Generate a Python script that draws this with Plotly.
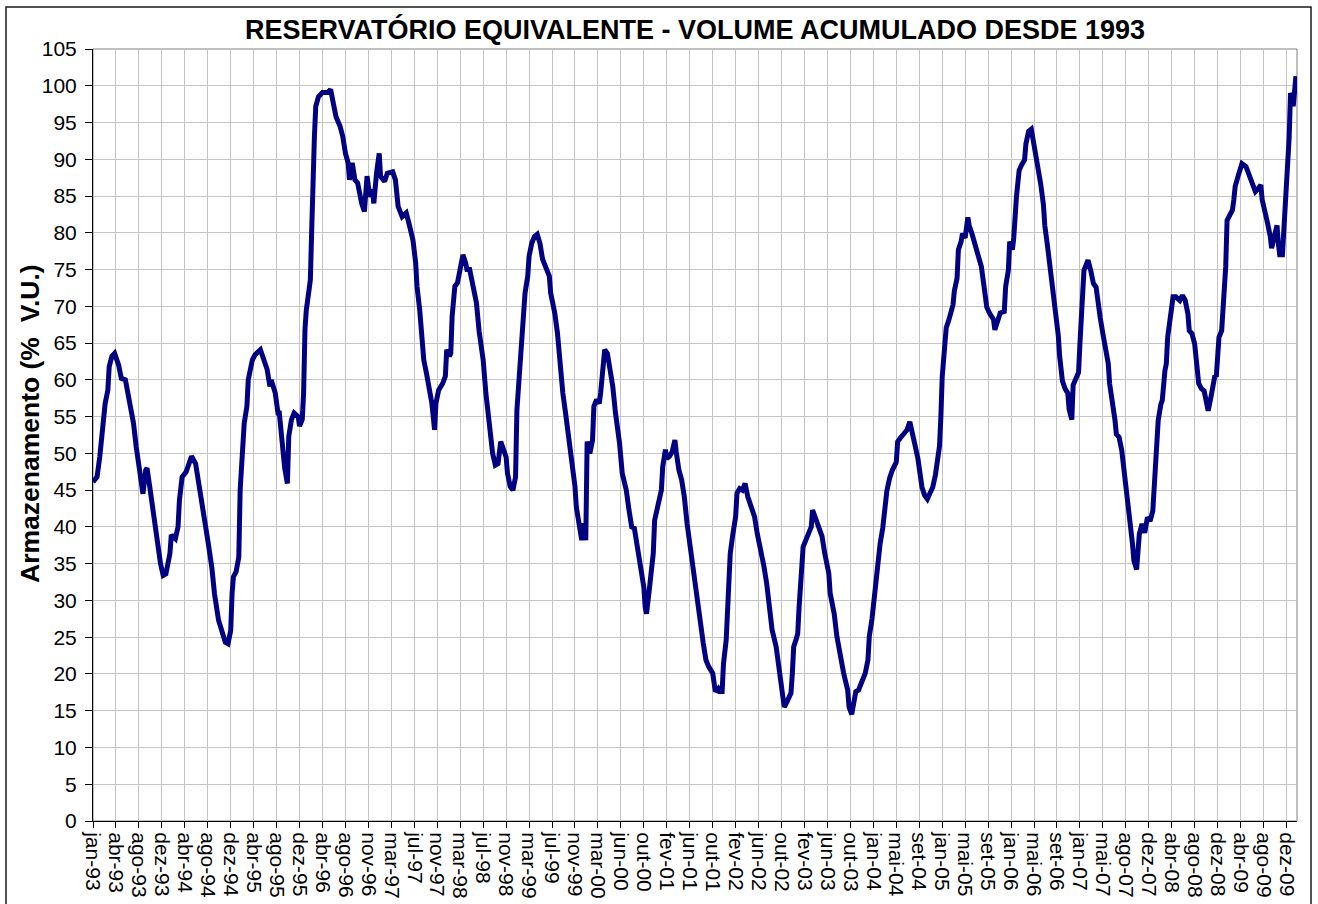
import plotly.graph_objects as go

# Weekly index since the first week of January 1993 (Excel category axis, one point per week)
semana = [
    0, 3, 5, 7, 9, 11, 12, 14, 16, 19, 21, 24, 27, 30, 32, 35, 37, 39, 40, 42,
    45, 47, 50, 52, 54, 57, 58, 61, 63, 64, 66, 69, 71, 73, 76, 78, 80, 83, 85, 88,
    90, 93, 95, 98, 100, 102, 103, 104, 106, 108, 109, 111, 112, 114, 115, 118, 120, 124, 126, 129,
    131, 132, 135, 137, 138, 140, 142, 144, 145, 147, 149, 152, 153, 155, 156, 157, 158, 160, 161, 162,
    163, 164, 165, 167, 170, 174, 176, 178, 180, 183, 185, 187, 189, 190, 191, 192, 194, 196, 199, 201,
    203, 205, 207, 208, 210, 212, 213, 216, 218, 222, 224, 226, 229, 232, 234, 237, 239, 240, 242, 244,
    245, 247, 249, 251, 253, 254, 256, 259, 261, 262, 264, 265, 266, 268, 270, 272, 274, 276, 277, 279,
    282, 284, 286, 289, 291, 294, 296, 298, 300, 302, 304, 306, 307, 309, 311, 313, 314, 316, 317, 319,
    320, 322, 323, 325, 327, 329, 331, 333, 336, 338, 339, 342, 344, 346, 348, 350, 352, 354, 357, 358,
    360, 362, 363, 365, 366, 368, 370, 371, 373, 375, 376, 378, 379, 381, 383, 385, 387, 390, 392, 395,
    397, 399, 401, 403, 406, 408, 409, 410, 412, 413, 415, 416, 418, 421, 422, 424, 425, 427, 429, 431,
    432, 434, 436, 438, 440, 443, 445, 447, 449, 452, 454, 456, 459, 461, 463, 464, 466, 467, 469, 470,
    471, 472, 474, 476, 477, 479, 481, 483, 485, 487, 490, 492, 495, 497, 499, 501, 503, 506, 508, 510,
    512, 514, 517, 518, 519, 521, 522, 523, 525, 526, 528, 530, 532, 533, 535, 537, 540, 542, 545, 546,
    549, 551, 554, 556, 559, 560, 562, 564, 565, 567, 569, 572, 574, 575, 577, 579, 581, 583, 585, 586,
    588, 590, 592, 595, 596, 598, 601, 603, 605, 607, 609, 611, 613, 614, 616, 618, 620, 622, 624, 625,
    627, 628, 629, 631, 632, 634, 636, 637, 638, 640, 641, 643, 644, 646, 648, 649, 651, 654, 656, 658,
    660, 662, 664, 667, 668, 670, 672, 675, 676, 678, 679, 681, 682, 684, 686, 688, 690, 691, 693, 695,
    697, 699, 700, 702, 704, 705, 707, 709, 711, 713, 715, 716, 718, 720, 722, 723, 725, 726, 728, 730,
    731, 732, 733, 734, 736, 737, 739, 741, 743, 744, 746, 748, 750, 752, 753, 755, 757, 758, 760, 762,
    764, 766, 767, 768, 770, 771, 773, 774, 775, 777, 779, 781, 783, 785, 786, 787, 788, 789, 791, 792,
    794, 795, 796, 797, 799, 800, 802, 805, 807, 809, 811, 812, 814, 816, 817, 818, 819, 821, 823, 825,
    826, 828, 829, 831, 832, 833, 834, 836, 837, 838, 839, 840, 842, 844, 845, 846, 848, 850, 851, 854,
    856, 858, 859, 861, 863, 865, 866, 868, 870, 872, 873, 875, 877, 878, 879, 881, 882, 883, 884, 885,
    886, 887, 888, 889, 890, 891,
]

armazenamento = [
    46.1, 46.8, 49.5, 53.2, 56.8, 58.6, 61.8, 63.2, 63.6, 62.0, 60.2, 60.0, 57.3, 54.1, 50.9, 47.3, 44.5, 47.7, 48.0, 45.5,
    41.8, 38.2, 35.0, 33.4, 33.6, 36.4, 38.9, 38.4, 40.0, 43.6, 46.8, 47.5, 48.6, 49.6, 48.6, 46.4, 44.1, 41.4, 38.2, 34.5,
    30.9, 27.3, 26.1, 24.3, 24.1, 25.9, 30.9, 33.2, 33.9, 35.9, 45.0, 50.0, 54.1, 56.4, 60.0, 62.7, 63.4, 64.1, 63.2, 61.4,
    59.1, 60.0, 58.2, 55.5, 55.5, 51.0, 48.0, 45.9, 52.3, 54.6, 55.5, 55.0, 53.7, 54.6, 58.2, 66.8, 69.5, 72.2, 73.6, 80.4,
    89.0, 93.1, 97.2, 98.5, 99.1, 99.1, 99.5, 97.2, 95.8, 94.5, 93.1, 90.8, 89.5, 87.2, 89.0, 89.5, 87.2, 86.8, 84.0, 82.9,
    87.7, 84.9, 85.9, 84.0, 88.1, 90.8, 87.7, 87.0, 88.1, 88.3, 87.2, 83.6, 82.2, 82.7, 81.3, 79.0, 75.9, 72.7, 69.5, 65.0,
    62.7, 60.9, 58.6, 56.8, 53.2, 56.8, 58.6, 59.5, 60.5, 64.1, 63.2, 63.6, 68.6, 72.7, 73.2, 75.0, 77.0, 75.9, 75.0, 75.0,
    72.7, 70.5, 66.6, 62.7, 58.2, 53.6, 50.0, 48.4, 48.6, 51.6, 50.5, 49.5, 47.3, 45.5, 45.0, 46.8, 55.9, 61.8, 64.1, 68.6,
    71.8, 74.1, 76.8, 78.6, 79.5, 79.8, 78.6, 76.4, 74.8, 74.1, 71.8, 69.1, 66.4, 61.8, 58.2, 55.5, 52.7, 49.1, 45.5, 42.7,
    40.5, 38.2, 40.5, 38.2, 51.6, 50.0, 51.8, 56.4, 57.3, 56.8, 58.2, 62.7, 64.1, 63.6, 61.4, 59.1, 55.5, 51.4, 47.3, 45.0,
    42.3, 40.0, 39.8, 37.3, 34.5, 31.8, 29.1, 28.2, 31.4, 32.7, 36.4, 40.9, 42.7, 45.0, 48.2, 50.5, 49.3, 49.6, 50.2, 51.8,
    50.2, 47.7, 46.4, 44.1, 40.5, 36.4, 32.8, 30.1, 27.3, 24.2, 21.9, 21.0, 20.1, 17.6, 18.0, 17.6, 17.6, 21.4, 24.6, 28.2,
    32.8, 36.4, 39.1, 41.4, 44.6, 45.2, 45.0, 45.9, 44.1, 42.8, 41.4, 39.1, 36.8, 34.6, 32.3, 29.1, 26.0, 23.7, 21.0, 17.4,
    15.5, 16.2, 17.4, 20.1, 23.7, 24.8, 25.5, 29.1, 34.6, 37.3, 38.2, 39.1, 40.0, 42.3, 41.4, 40.5, 38.7, 36.4, 33.7, 31.0,
    28.2, 25.1, 21.9, 20.1, 17.8, 15.5, 14.5, 16.9, 17.6, 17.8, 18.7, 20.1, 21.9, 25.1, 27.5, 31.0, 35.0, 37.7, 39.9, 41.6,
    44.9, 46.6, 47.7, 48.8, 51.6, 52.1, 52.7, 53.2, 54.3, 52.9, 51.0, 49.3, 47.1, 45.4, 44.3, 43.8, 44.6, 45.4, 47.1, 48.2,
    51.0, 54.9, 60.4, 64.9, 67.1, 68.2, 69.3, 70.2, 72.1, 73.8, 77.7, 78.8, 79.9, 79.3, 82.1, 81.0, 79.9, 78.2, 76.8, 75.4,
    72.7, 69.9, 69.1, 68.2, 66.8, 68.2, 69.1, 69.3, 72.7, 74.9, 78.8, 77.7, 79.3, 84.9, 88.5, 89.3, 89.9, 92.1, 93.8, 94.1,
    92.1, 90.4, 89.3, 86.6, 83.8, 81.0, 78.2, 75.4, 72.7, 68.8, 66.0, 63.2, 59.9, 58.8, 58.2, 56.0, 54.6, 59.3, 60.2, 61.0,
    64.9, 69.4, 71.5, 74.9, 75.8, 76.3, 74.9, 73.1, 72.6, 70.8, 68.5, 66.3, 64.5, 62.2, 59.5, 57.2, 54.5, 52.6, 52.2, 50.4,
    47.6, 44.9, 43.1, 40.8, 37.6, 35.4, 34.2, 36.7, 39.0, 40.4, 39.2, 41.3, 40.8, 42.2, 44.9, 49.5, 52.2, 54.5, 56.7, 57.2,
    61.3, 62.2, 65.8, 67.6, 69.9, 71.3, 71.3, 70.8, 71.5, 70.8, 69.0, 66.7, 66.3, 64.9, 63.1, 61.3, 59.5, 58.8, 58.5, 56.7,
    55.8, 57.6, 59.0, 60.6, 60.4, 63.5, 65.8, 66.7, 69.5, 72.2, 75.4, 81.7, 82.6, 83.1, 84.5, 86.3, 87.6, 89.0, 89.4, 89.0,
    88.1, 87.0, 86.3, 85.6, 86.0, 86.5, 84.5, 83.1, 81.3, 79.5, 77.9, 79.5, 81.0, 78.5, 77.0, 77.0, 79.9, 83.1, 85.4, 87.6,
    93.0, 99.0, 98.5, 97.2, 100.4, 101.3,
]

rotulos_x = [
    "jan-93", "abr-93", "ago-93", "dez-93", "abr-94", "ago-94", "dez-94", "abr-95", "ago-95", "dez-95",
    "abr-96", "ago-96", "nov-96", "mar-97", "jul-97", "nov-97", "mar-98", "jul-98", "nov-98", "mar-99",
    "jul-99", "nov-99", "mar-00", "jun-00", "out-00", "fev-01", "jun-01", "out-01", "fev-02", "jun-02",
    "out-02", "fev-03", "jun-03", "out-03", "jan-04", "mai-04", "set-04", "jan-05", "mai-05", "set-05",
    "jan-06", "mai-06", "set-06", "jan-07", "mai-07", "ago-07", "dez-07", "abr-08", "ago-08", "dez-08",
    "abr-09", "ago-09", "dez-09",
]
semanas_entre_rotulos = 17

titulo = "RESERVATÓRIO EQUIVALENTE - VOLUME ACUMULADO DESDE 1993"
titulo_y = "Armazenamento (%  V.U.)"

FONT = "Liberation Sans, Arial, Helvetica, sans-serif"

W, H = 1318, 904
L, R, T, B = 93, 21, 49, 83
pw, ph = W - L - R, H - T - B

fig = go.Figure()
fig.add_trace(go.Scatter(
    x=semana, y=armazenamento, mode="lines",
    line=dict(color="#000080", width=5),
    showlegend=False,
))

tickvals = [k * semanas_entre_rotulos for k in range(len(rotulos_x))]

fig.update_layout(
    width=W, height=H,
    margin=dict(l=L, r=R, t=T, b=B, pad=0, autoexpand=False),
    paper_bgcolor="white", plot_bgcolor="white",
    font=dict(family=FONT, color="black"),
    title=dict(
        text="<b>" + titulo + "</b>",
        font=dict(family=FONT, size=27, color="black"),
        x=0.5, xref="paper", xanchor="center",
        y=1 - 30 / H, yref="container", yanchor="middle",
    ),
    xaxis=dict(
        range=[0, 891.8], automargin=False,
        tickmode="array", tickvals=tickvals, ticktext=rotulos_x,
        tickangle=90, tickfont=dict(family=FONT, size=21, color="black"),
        ticks="outside", ticklen=6, tickcolor="black", tickwidth=1,
        showline=True, linecolor="black", linewidth=1,
        showgrid=True, gridcolor="#C4C4C4", gridwidth=1,
        zeroline=False,
    ),
    yaxis=dict(
        range=[0, 105], tick0=0, dtick=5, automargin=False,
        tickfont=dict(family=FONT, size=21, color="black"),
        ticks="outside", ticklen=7, tickcolor="black", tickwidth=1,
        ticklabelstandoff=4,
        showline=True, linecolor="black", linewidth=1,
        showgrid=True, gridcolor="#C4C4C4", gridwidth=1,
        zeroline=False,
    ),
    shapes=[
        dict(type="rect", xref="paper", yref="paper", x0=0, x1=1, y0=0, y1=1,
             line=dict(color="#808080", width=1), layer="below"),
        dict(type="rect", xref="paper", yref="paper",
             x0=(6 - L) / pw, x1=(1311 - L) / pw,
             y0=-(B + 20) / ph, y1=(ph + T - 7) / ph,
             line=dict(color="#1a1a1a", width=1.5), layer="above"),
    ],
    annotations=[
        dict(text="<b>" + titulo_y + "</b>", textangle=-90,
             xref="paper", yref="paper",
             x=(30 - L) / pw, y=(H - B - 424) / ph,
             xanchor="center", yanchor="middle", showarrow=False,
             font=dict(family=FONT, size=26.5, color="black")),
    ],
)

# Remove the browser's default page margin so the figure sits at the window origin
fig.write_html(
    "out.html",
    config={"displayModeBar": False},
    post_script="document.body.style.margin='0';document.body.style.overflow='hidden';",
)
